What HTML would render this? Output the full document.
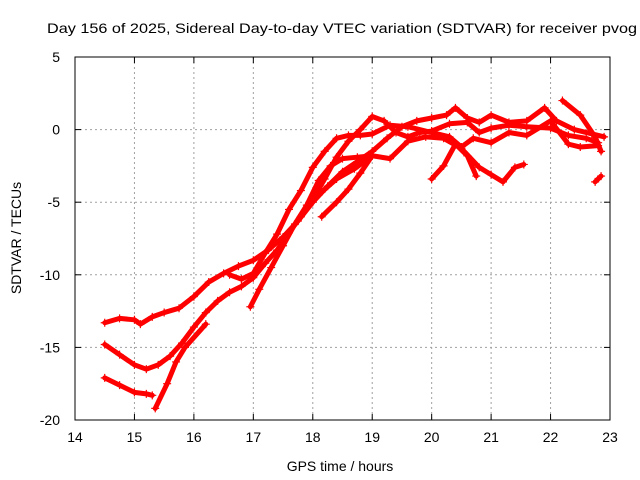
<!DOCTYPE html>
<html><head><meta charset="utf-8"><style>
html,body{margin:0;padding:0;background:#fff;width:640px;height:480px;overflow:hidden}
text{font-family:"Liberation Sans",sans-serif;font-size:13px;fill:#000}
</style></head><body>
<svg id="chart" width="640" height="480" xmlns="http://www.w3.org/2000/svg">
<rect width="640" height="480" fill="#fff"/>
<text x="47" y="33" text-anchor="start" textLength="590" lengthAdjust="spacingAndGlyphs" style="font-size:14px">Day 156 of 2025, Sidereal Day-to-day VTEC variation (SDTVAR) for receiver pvog</text>
<text x="340" y="471" text-anchor="middle" style="font-size:14px">GPS time / hours</text>
<text transform="translate(21,238) rotate(-90)" text-anchor="middle" style="font-size:14px">SDTVAR / TECUs</text>
<g id="grid"></g><g id="marks"></g>
<rect x="75" y="57" width="535" height="363" fill="none" stroke="#000" stroke-width="1"/>
<g id="ticks"></g>
</svg>
<script>
const xTicks=[14,15,16,17,18,19,20,21,22,23];
const yTicks=[5,0,-5,-10,-15,-20];
const s1=[[14.5,-13.3],[14.75,-13.0],[15,-13.1],[15.1,-13.4],[15.3,-12.9],[15.5,-12.6],[15.75,-12.3],[16,-11.5],[16.25,-10.5],[16.5,-9.9],[16.75,-9.4],[17,-9.0],[17.25,-8.3],[17.5,-7.4],[17.75,-6.3],[18,-5.0],[18.25,-3.9],[18.5,-2.9],[18.75,-2.2],[19,-1.5],[19.25,-0.6],[19.5,0.2],[19.75,0.6],[20,0.8],[20.25,1.0],[20.4,1.5],[20.6,0.8],[20.8,0.5],[21,1.0],[21.3,0.5],[21.6,0.6],[21.9,1.5],[22.1,0.6],[22.4,0],[22.7,-0.3],[22.9,-0.5]];
const s2=[[14.5,-14.8],[14.75,-15.5],[15,-16.2],[15.2,-16.5],[15.4,-16.2],[15.6,-15.6],[15.8,-14.7],[16,-13.6],[16.2,-12.6],[16.4,-11.8],[16.6,-11.2],[16.8,-10.8],[17,-10.2],[17.2,-9.2],[17.4,-8.3],[17.6,-7.1],[17.8,-6.0],[18,-4.8],[18.2,-3.4],[18.4,-1.9],[18.6,-0.8],[18.8,0.0],[19,0.9],[19.2,0.6],[19.4,-0.2],[19.6,-0.5],[19.8,-0.2],[20,-0.1],[20.3,0.4],[20.6,0.5],[20.8,-0.2],[21,0.1],[21.3,0.3],[21.6,0.2],[22,0.1],[22.3,-0.4],[22.6,-0.6],[22.8,-0.9]];
const s3=[[14.5,-17.1],[14.75,-17.6],[15,-18.1],[15.2,-18.2],[15.3,-18.3]];
const s4=[[15.35,-19.2],[15.55,-17.5],[15.7,-16.0],[15.85,-15.0],[16.2,-13.4]];
const s5=[[16.95,-12.2],[17.1,-11.0],[17.3,-9.5],[17.5,-8.0],[17.7,-6.5],[17.9,-5.2],[18.1,-3.5],[18.3,-2.5],[18.5,-2.0],[18.75,-1.9],[19,-1.8],[19.3,-2.0],[19.6,-0.8],[19.9,-0.5],[20.2,-0.6],[20.5,-1.3],[20.8,-2.6],[21.0,-3.1],[21.2,-3.6],[21.4,-2.6],[21.55,-2.4]];
const s6=[[18.15,-4.3],[18.4,-3.4],[18.7,-2.7],[19,-1.8]];
const s7=[[18.15,-6.0],[18.4,-5.0],[18.6,-4.1],[18.8,-3.0],[19,-1.8]];
const s8=[[16.6,-10.0],[16.8,-10.3],[17.0,-9.9],[17.2,-8.5],[17.4,-7.2],[17.6,-5.5],[17.8,-4.2],[18.0,-2.6],[18.2,-1.5],[18.4,-0.6],[18.6,-0.4],[18.8,-0.4],[19,-0.3],[19.3,0.3],[19.6,0.2],[20,-0.2],[20.3,-0.5],[20.5,-1.2],[20.7,-0.6],[21,-0.9],[21.3,-0.2],[21.6,-0.4],[22,0.6],[22.3,-1.0],[22.5,-1.2],[22.8,-1.1]];
const s9=[[20,-3.4],[20.2,-2.5],[20.4,-1.0],[20.6,-1.8],[20.75,-3.2]];
const s10=[[22.2,2.0],[22.5,1.0],[22.75,-0.5],[22.85,-1.5]];
const s11=[[22.75,-3.6],[22.85,-3.2]];
const series=[s1,s2,s3,s4,s5,s6,s7,s8,s9,s10,s11];
const L=75,R=610,T=57,B=420;
const xS=v=>L+(v-14)/9*(R-L);
const yS=v=>T+(5-v)/25*(B-T);
const NS="http://www.w3.org/2000/svg";
const g=document.getElementById('grid'),tk=document.getElementById('ticks'),mk=document.getElementById('marks'),svg=document.getElementById('chart');
function mkEl(t,a,p){const e=document.createElementNS(NS,t);for(const k in a)e.setAttribute(k,a[k]);p.appendChild(e);return e;}
xTicks.forEach(v=>{const x=xS(v);
 if(v>14&&v<23){const l=mkEl('line',{x1:x,x2:x,y1:T,y2:B,stroke:'#a0a0a0','stroke-dasharray':'2,3'},g);
 
 }
 mkEl('line',{x1:x,x2:x,y1:B,y2:B-6,stroke:'#000'},tk);mkEl('line',{x1:x,x2:x,y1:T,y2:T+6,stroke:'#000'},tk);
 const t=mkEl('text',{x:x,y:442,'text-anchor':'middle',style:'font-size:14px'},svg);t.textContent=v;
 
 });
yTicks.forEach(v=>{const y=yS(v);
 if(v<5&&v>-20){const l=mkEl('line',{x1:L,x2:R,y1:y,y2:y,stroke:'#a0a0a0','stroke-dasharray':'2,3'},g);
 
 }
 mkEl('line',{x1:L,x2:L+6,y1:y,y2:y,stroke:'#000'},tk);mkEl('line',{x1:R,x2:R-6,y1:y,y2:y,stroke:'#000'},tk);
 const t=mkEl('text',{x:60,y:y+5,'text-anchor':'end',style:'font-size:14px'},svg);t.textContent=v;
 
 });
series.forEach((s,i)=>{
 const p=mkEl('polyline',{points:s.map(d=>xS(d[0])+','+yS(d[1])).join(' '),fill:'none',stroke:'#ff0000','stroke-width':5,'stroke-linejoin':'round','stroke-linecap':'round'},mk);
 
 
 s.forEach(d=>{const x=xS(d[0]),y=yS(d[1]);
  const m=mkEl('path',{d:`M${x-4},${y}H${x+4}M${x},${y-4}V${y+4}`,stroke:'#ff0000','stroke-width':1.2},mk);
  
  });
});
</script>
</body></html>
